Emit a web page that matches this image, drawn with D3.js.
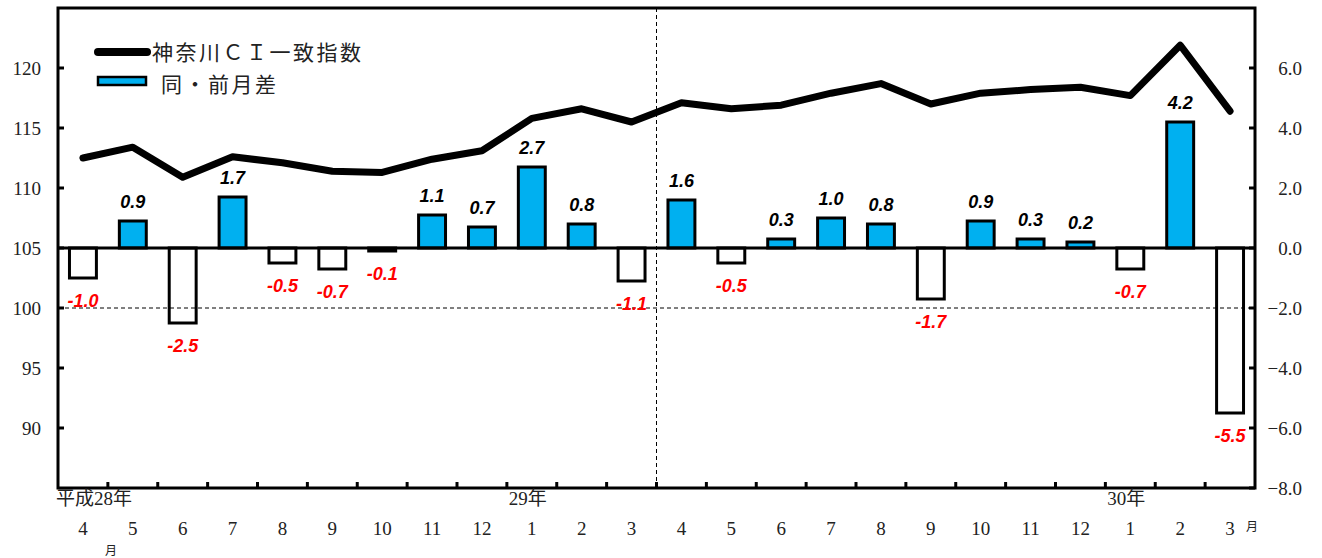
<!DOCTYPE html>
<html><head><meta charset="utf-8">
<script src="https://cdn.jsdelivr.net/npm/d3@7"></script>
<style>
html,body{margin:0;padding:0;background:#fff;}
svg{display:block;}
.lab{font-family:"Liberation Sans Narrow","Liberation Sans",Arial,sans-serif;font-weight:bold;font-style:italic;font-size:18px;}
.leg{font-family:"Noto Sans CJK JP",sans-serif;font-size:21px;fill:#222;letter-spacing:2.5px;}
</style></head>
<body>
<script>
const months = ["4","5","6","7","8","9","10","11","12","1","2","3","4","5","6","7","8","9","10","11","12","1","2","3"];
const ciIndex = [112.5,113.4,110.9,112.6,112.1,111.4,111.3,112.4,113.1,115.8,116.6,115.5,117.1,116.6,116.9,117.9,118.7,117.0,117.9,118.2,118.4,117.7,121.9,116.4];
const monthDiff = [-1.0,0.9,-2.5,1.7,-0.5,-0.7,-0.1,1.1,0.7,2.7,0.8,-1.1,1.6,-0.5,0.3,1.0,0.8,-1.7,0.9,0.3,0.2,-0.7,4.2,-5.5];
const leftTicks = [90,95,100,105,110,115,120];
const rightTicks = [-8,-6,-4,-2,0,2,4,6];
const yearLabels = [{i:0,t:"平成28年",anchor:"start"},{i:9,t:"29年",anchor:"middle"},{i:21,t:"30年",anchor:"middle"}];
const seriesNames = ["神奈川ＣＩ一致指数","同・前月差"];

const SERIF="'Liberation Serif','DejaVu Serif','Noto Sans CJK JP',serif";
const W=1322,H=558;
const L=58,R=1255,T=8,B=488;
const svg=d3.select("body").append("svg").attr("width",W).attr("height",H);
const idx=d3.range(months.length);
const x=d3.scaleBand().domain(idx).range([L,R]).padding(0);
const yL=d3.scaleLinear().domain([85,125]).range([B,T]);
const yR=d3.scaleLinear().domain([-8,8]).range([B,T]);
const bw=x.bandwidth()*0.54;
const cx=i=>x(i)+x.bandwidth()/2;
function tk(sel){return sel.attr("font-family",SERIF).attr("font-size",19).attr("fill","#222");}

// bars
svg.append("g").selectAll("rect").data(monthDiff).join("rect")
  .attr("x",(d,i)=>cx(i)-bw/2)
  .attr("y",d=>yR(Math.max(0,d)))
  .attr("width",bw)
  .attr("height",d=>Math.abs(yR(d)-yR(0)))
  .attr("fill",d=>d>=0?"#00B0F0":"#fff")
  .attr("stroke","#000").attr("stroke-width",3);

// dashed lines
svg.append("line").attr("x1",L).attr("x2",R).attr("y1",yL(100)).attr("y2",yL(100))
  .attr("stroke","#000").attr("stroke-width",1).attr("stroke-dasharray","4,3");
svg.append("line").attr("x1",x(12)).attr("x2",x(12)).attr("y1",T).attr("y2",B)
  .attr("stroke","#000").attr("stroke-width",1).attr("stroke-dasharray","4,3");

// zero line
svg.append("line").attr("x1",L).attr("x2",R).attr("y1",yR(0)).attr("y2",yR(0))
  .attr("stroke","#000").attr("stroke-width",3);

// CI line
svg.append("path").datum(ciIndex)
  .attr("d",d3.line().x((d,i)=>cx(i)).y(d=>yL(d)))
  .attr("fill","none").attr("stroke","#000").attr("stroke-width",7)
  .attr("stroke-linejoin","round").attr("stroke-linecap","round");

// value labels
svg.append("g").selectAll("text").data(monthDiff).join("text")
  .attr("class","lab")
  .attr("x",(d,i)=>cx(i))
  .attr("y",d=>d>=0?yR(d)-13:yR(d)+29)
  .attr("text-anchor","middle")
  .attr("fill",d=>d>=0?"#000":"#ff0000")
  .text(d=>d.toFixed(1));

// frame
svg.append("rect").attr("x",L).attr("y",T).attr("width",R-L).attr("height",B-T)
  .attr("fill","none").attr("stroke","#000").attr("stroke-width",3);

// left axis ticks and labels
const gl=svg.append("g");
gl.selectAll("line").data(leftTicks).join("line")
  .attr("x1",L).attr("x2",L+6).attr("y1",d=>yL(d)).attr("y2",d=>yL(d))
  .attr("stroke","#000").attr("stroke-width",3);
tk(gl.selectAll("text").data(leftTicks).join("text"))
  .attr("x",41).attr("y",d=>yL(d)+7).attr("text-anchor","end").text(d=>d);

// right axis
const gr=svg.append("g");
gr.selectAll("line").data(rightTicks).join("line")
  .attr("x1",R-6).attr("x2",R).attr("y1",d=>yR(d)).attr("y2",d=>yR(d))
  .attr("stroke","#000").attr("stroke-width",3);
tk(gr.selectAll("text").data(rightTicks).join("text"))
  .attr("x",1302).attr("y",d=>yR(d)+7).attr("text-anchor","end")
  .text(d=>(d<0?"−":"")+Math.abs(d).toFixed(1));

// bottom ticks
svg.append("g").selectAll("line").data(d3.range(1,months.length)).join("line")
  .attr("x1",i=>x(i)).attr("x2",i=>x(i)).attr("y1",B).attr("y2",B-6)
  .attr("stroke","#000").attr("stroke-width",3);

// month labels
tk(svg.append("g").selectAll("text").data(months).join("text"))
  .attr("x",(d,i)=>cx(i)).attr("y",535).attr("text-anchor","middle").text(d=>d);
tk(svg.append("text")).attr("font-family","'Noto Sans CJK JP'").attr("font-size",12)
  .attr("x",cx(0)+28).attr("y",555).attr("text-anchor","middle").text("月");
tk(svg.append("text")).attr("font-family","'Noto Sans CJK JP'").attr("font-size",12)
  .attr("x",cx(23)+22).attr("y",531).attr("text-anchor","middle").text("月");

// year labels
tk(svg.append("g").selectAll("text").data(yearLabels).join("text"))
  .attr("x",d=>d.anchor==="start"?L-2:cx(d.i)-4).attr("y",505)
  .attr("text-anchor",d=>d.anchor).text(d=>d.t);

// legend
const lg=svg.append("g");
lg.append("line").attr("x1",98).attr("x2",147).attr("y1",52).attr("y2",52)
  .attr("stroke","#000").attr("stroke-width",8).attr("stroke-linecap","round");
lg.append("text").attr("class","leg").attr("x",152).attr("y",60).text(seriesNames[0]);
lg.append("rect").attr("x",98).attr("y",77).attr("width",48).attr("height",8)
  .attr("fill","#00B0F0").attr("stroke","#000").attr("stroke-width",2.5);
lg.append("text").attr("class","leg").attr("x",161).attr("y",92).text(seriesNames[1]);
</script>
</body></html>
